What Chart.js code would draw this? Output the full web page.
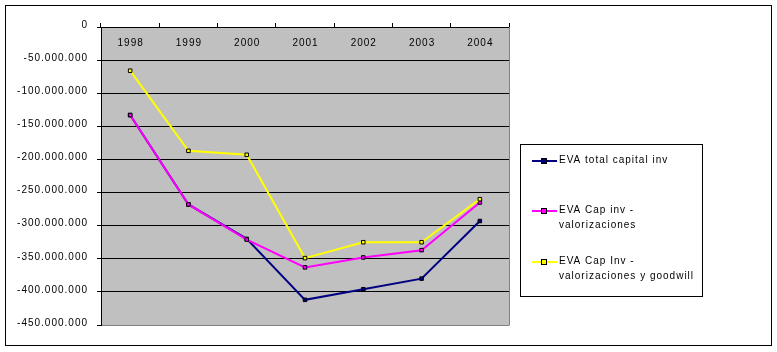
<!DOCTYPE html>
<html lang="es">
<head>
  <meta charset="UTF-8">
  <title>EVA</title>
  <script src="https://cdn.jsdelivr.net/npm/chart.js"></script>
  <style>
    body {
      margin: 0;
      background: #fff;
    }
    canvas {
      display: block;
    }
  </style>
</head>
<body>
  <canvas id="myChart" width="777" height="352"></canvas>

  <script>
    // datos
    const years = ['1998', '1999', '2000', '2001', '2002', '2003', '2004'];
    const evaTotal = [-133000000, -268000000, -320000000, -412000000, -396000000, -380000000, -293000000];
    const evaCapInv = [-133000000, -268000000, -321000000, -363000000, -348000000, -337000000, -265000000];
    const evaCapInvGoodwill = [-66000000, -187000000, -193000000, -349000000, -325000000, -325000000, -260000000];
    const yTicks = [0, -50000000, -100000000, -150000000, -200000000, -250000000, -300000000, -350000000, -400000000, -450000000];
    const legendLabels = [
      ['EVA total capital inv'],
      ['EVA Cap inv -', 'valorizaciones'],
      ['EVA Cap Inv -', 'valorizaciones y goodwill']
    ];

    Chart.defaults.font.family = 'Arial, "Liberation Sans", sans-serif';
    Chart.defaults.font.size = 10;
    Chart.defaults.color = '#000';

    function fmt(v) {
      const s = Math.abs(v).toString().replace(/\B(?=(\d{3})+(?!\d))/g, '.');
      return (v < 0 ? '-' : '') + s;
    }

    const plotBg = {
      id: 'plotBg',
      beforeDraw(chart) {
        const ctx = chart.ctx;
        const a = chart.chartArea;
        ctx.letterSpacing = '1px';
        ctx.save();
        ctx.fillStyle = '#c0c0c0';
        ctx.fillRect(a.left, a.top, a.right - a.left, a.bottom - a.top);
        ctx.restore();
      },
      afterDraw(chart) {
        const ctx = chart.ctx;
        const a = chart.chartArea;
        const x = chart.scales.x;
        ctx.save();
        // borde gris del area
        ctx.strokeStyle = '#808080';
        ctx.lineWidth = 1;
        ctx.beginPath();
        ctx.moveTo(a.right + 0.5, a.top);
        ctx.lineTo(a.right + 0.5, a.bottom + 0.5);
        ctx.stroke();

        // etiquetas de categorias dentro del area
        ctx.fillStyle = '#000';
        ctx.font = '10px Arial, "Liberation Sans", sans-serif';
        ctx.textAlign = 'center';
        ctx.textBaseline = 'middle';
        years.forEach((y, i) => {
          ctx.fillText(y, x.getPixelForValue(i) + 0.5, a.top + 16);
        });

        // marco exterior
        ctx.strokeStyle = '#000';
        ctx.strokeRect(5.5, 5.5, 766, 340);

        // leyenda
        ctx.strokeRect(520.5, 144.5, 182, 152);
        const rows = [161, 211, 262];
        ctx.textAlign = 'left';
        chart.data.datasets.forEach((ds, i) => {
          const y = rows[i];
          ctx.strokeStyle = ds.borderColor;
          ctx.lineWidth = 2;
          ctx.beginPath();
          ctx.moveTo(532, y);
          ctx.lineTo(557, y);
          ctx.stroke();
          ctx.fillStyle = ds.backgroundColor;
          ctx.fillRect(542, y - 2, 4, 4);
          ctx.lineWidth = 1;
          ctx.strokeStyle = '#000';
          ctx.strokeRect(541.5, y - 2.5, 5, 5);
          ctx.fillStyle = '#000';
          legendLabels[i].forEach((t, j) => {
            ctx.fillText(t, 559, y - 1 + j * 15);
          });
        });
        ctx.restore();
      }
    };

    const ctx = document.getElementById('myChart').getContext('2d');
    const myChart = new Chart(ctx, {
      type: 'line',
      data: {
        labels: years,
        datasets: [{
          label: legendLabels[0].join(' '),
          data: evaTotal,
          borderColor: '#000080',
          backgroundColor: '#000080',
          borderWidth: 2,
          pointStyle: 'rect',
          pointRadius: 2.5,
          pointBorderColor: '#000',
          pointBorderWidth: 1,
          pointBackgroundColor: '#000080',
          tension: 0,
          order: 2
        },
        {
          label: legendLabels[1].join(' '),
          data: evaCapInv,
          borderColor: '#ff00ff',
          backgroundColor: '#ff00ff',
          borderWidth: 2,
          pointStyle: 'rect',
          pointRadius: 2.5,
          pointBorderColor: '#000',
          pointBorderWidth: 1,
          pointBackgroundColor: '#ff00ff',
          tension: 0,
          order: 1
        },
        {
          label: legendLabels[2].join(' '),
          data: evaCapInvGoodwill,
          borderColor: '#ffff00',
          backgroundColor: '#ffff00',
          borderWidth: 2,
          pointStyle: 'rect',
          pointRadius: 2.5,
          pointBorderColor: '#000',
          pointBorderWidth: 1,
          pointBackgroundColor: '#ffff00',
          tension: 0,
          order: 0
        }]
      },
      options: {
        responsive: false,
        animation: false,
        layout: {
          padding: { left: 0, right: 268, top: 0, bottom: 27 }
        },
        plugins: {
          legend: { display: false },
          tooltip: { enabled: false }
        },
        scales: {
          x: {
            position: 'top',
            offset: true,
            ticks: { display: false },
            grid: {
              drawOnChartArea: false,
              tickLength: 4,
              color: '#000',
              offset: true
            },
            border: { color: '#000', width: 1 },
            afterFit(scale) { scale.height = 27; }
          },
          y: {
            min: -450000000,
            max: 0,
            afterBuildTicks(scale) {
              scale.ticks = yTicks.map(v => ({ value: v }));
            },
            ticks: {
              padding: 9,
              labelOffset: -2,
              callback: v => fmt(v)
            },
            grid: {
              color: c => (c.tick && c.tick.value === -450000000) ? '#808080' : '#000',
              tickColor: '#000',
              tickLength: 4
            },
            border: { color: '#000', width: 1 },
            afterFit(scale) { scale.width = 101; }
          }
        }
      },
      plugins: [plotBg]
    });
  </script>
</body>
</html>
